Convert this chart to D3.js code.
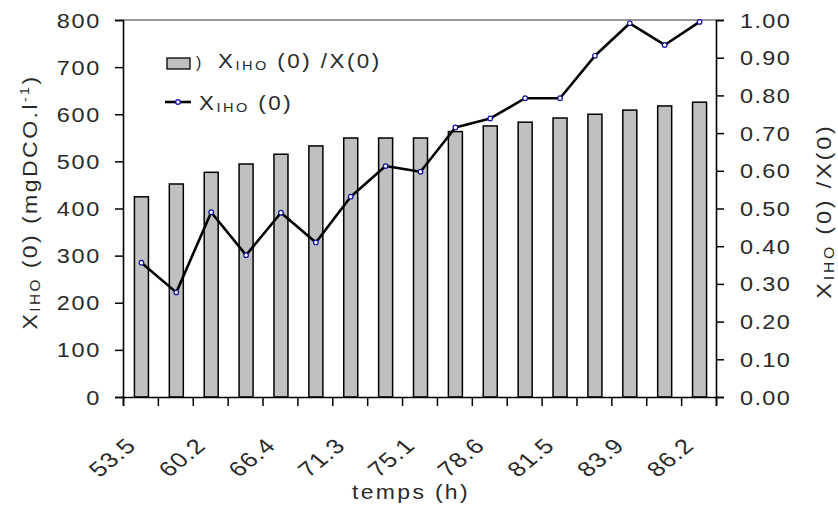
<!DOCTYPE html>
<html><head><meta charset="utf-8">
<script src="https://cdn.jsdelivr.net/npm/d3@7"></script>
<style>body{margin:0;background:#fff}svg{display:block}text{font-family:"Liberation Sans",Arial,sans-serif;fill:#2a2a2a}</style>
</head><body><svg id="c" width="838" height="510"></svg>
<script>
const categories = d3.range(17);
const tickLabels = ["53.5","60.2","66.4","71.3","75.1","78.6","81.5","83.9","86.2"];
const ratioValues = [0.531,0.565,0.596,0.618,0.644,0.666,0.687,0.687,0.687,0.704,0.719,0.729,0.740,0.750,0.761,0.772,0.782];
const xihoValues = [285,222,392,301,391,328,425,490,478,572,591,634,634,724,793,747,796];
const leftTicks = [0,100,200,300,400,500,600,700,800];
const rightTicks = [0,0.1,0.2,0.3,0.4,0.5,0.6,0.7,0.8,0.9,1.0];

const svg = d3.select("#c");
const L=123, R=716, T=20, B=397;
const x = d3.scaleBand().domain(categories).range([L,R]).paddingInner(0).paddingOuter(0);
const yL = d3.scaleLinear().domain([0,800]).range([B,T]);
const yR = d3.scaleLinear().domain([0,1]).range([B,T]);

function txt(parent, px, py, rot, sx, anchor, size, ls){
  const g = parent.append("g").attr("transform",`translate(${px},${py}) rotate(${rot}) scale(${sx},1)`);
  return g.append("text").attr("text-anchor",anchor).attr("font-size",size).attr("letter-spacing",ls||0);
}
function txtShear(parent, px, py, rot, sx, anchor, size, ls){
  const g = parent.append("g").attr("transform",`translate(${px},${py}) scale(${sx},1) rotate(${rot})`);
  return g.append("text").attr("text-anchor",anchor).attr("font-size",size).attr("letter-spacing",ls||0);
}
function xiho(t, big, small, dy){
  t.append("tspan").text("X");
  t.append("tspan").attr("font-size",small).attr("dy",dy).text("IHO");
  t.append("tspan").attr("font-size",big).attr("dy",-dy).text(" (0)");
}

// bars
const bw = 14;
svg.append("g").selectAll("rect").data(categories).join("rect")
  .attr("x", d=>x(d)+x.bandwidth()/2+1-bw/2).attr("width", bw)
  .attr("y", d=>yR(ratioValues[d])).attr("height", d=>B-yR(ratioValues[d]))
  .attr("fill","#c0c0c0").attr("stroke","#000").attr("stroke-width",1.5);

// frame
svg.append("line").attr("x1",L).attr("x2",R).attr("y1",T).attr("y2",T).attr("stroke","#333").attr("stroke-width",1);
const gl = svg.append("g").attr("transform",`translate(${L},0)`)
  .call(d3.axisLeft(yL).tickValues(leftTicks).tickSize(8).tickFormat(""));
const gr = svg.append("g").attr("transform",`translate(${R},0)`)
  .call(d3.axisRight(yR).tickValues(rightTicks).tickSize(8).tickFormat(""));
const gb = svg.append("g").attr("transform",`translate(0,${B})`)
  .call(d3.axisBottom(d3.scaleLinear().domain([0,17]).range([L,R])).tickValues(d3.range(18)).tickSize(9).tickFormat(""));
[gl,gr,gb].forEach(g=>{g.select(".domain").attr("stroke","#000").attr("stroke-width",1.6);
  g.selectAll(".tick line").attr("stroke","#000").attr("stroke-width",1.5);});

leftTicks.forEach(v=>txt(svg,101,yL(v)+7.5,0,1.12,"end",21,1.5).text(String(v)));
rightTicks.forEach(v=>txt(svg,740,yR(v)+7.5,0,1.12,"start",21,1.2).text(v.toFixed(2)));
tickLabels.forEach((lab,i)=>{
  const c = categories[i*2];
  txtShear(svg, x(c)+x.bandwidth()/2-3, 447, -45, 1.22, "end", 21, 0.8).text(lab);
});

// line
const line = d3.line().x(d=>x(d)+x.bandwidth()/2+1).y(d=>yL(xihoValues[d]));
svg.append("path").datum(categories).attr("d",line).attr("fill","none").attr("stroke","#000").attr("stroke-width",2.6).attr("stroke-linejoin","round");
svg.append("g").selectAll("circle").data(categories).join("circle")
  .attr("cx",d=>x(d)+x.bandwidth()/2+1).attr("cy",d=>yL(xihoValues[d])).attr("r",2.3)
  .attr("fill","#fff").attr("stroke","#1010a0").attr("stroke-width",1.2);

// axis titles
txt(svg,411,499,0,1.15,"middle",20,2).text("temps (h)");
{ const t = txt(svg,37,202,-90,1.1,"middle",21,2.2); xiho(t,21,14,3);
  t.append("tspan").text(" (mgDCO.l"); t.append("tspan").attr("font-size",13).attr("dy",-8).text("-1");
  t.append("tspan").attr("dy",8).text(")"); }
{ const t = txt(svg,831,211,-90,1.12,"middle",21,2.5); xiho(t,21,14,3); t.append("tspan").text(" /X(0)"); }

// legend
svg.append("rect").attr("x",167).attr("y",58).attr("width",23).attr("height",11).attr("fill","#c0c0c0").attr("stroke","#000").attr("stroke-width",1.3);
txt(svg,196,68,0,1,"start",16).attr("fill","#888").text(")");
{ const t = txt(svg,218,68,0,1.12,"start",20,2.2); xiho(t,20,13,2); t.append("tspan").text(" /X(0)"); }
svg.append("line").attr("x1",165).attr("x2",191).attr("y1",102).attr("y2",102).attr("stroke","#000").attr("stroke-width",2.6);
svg.append("circle").attr("cx",178).attr("cy",102).attr("r",2.3).attr("fill","#fff").attr("stroke","#1010a0").attr("stroke-width",1.2);
{ const t = txt(svg,199,110,0,1.12,"start",20,2.2); xiho(t,20,13,2); }
</script></body></html>
